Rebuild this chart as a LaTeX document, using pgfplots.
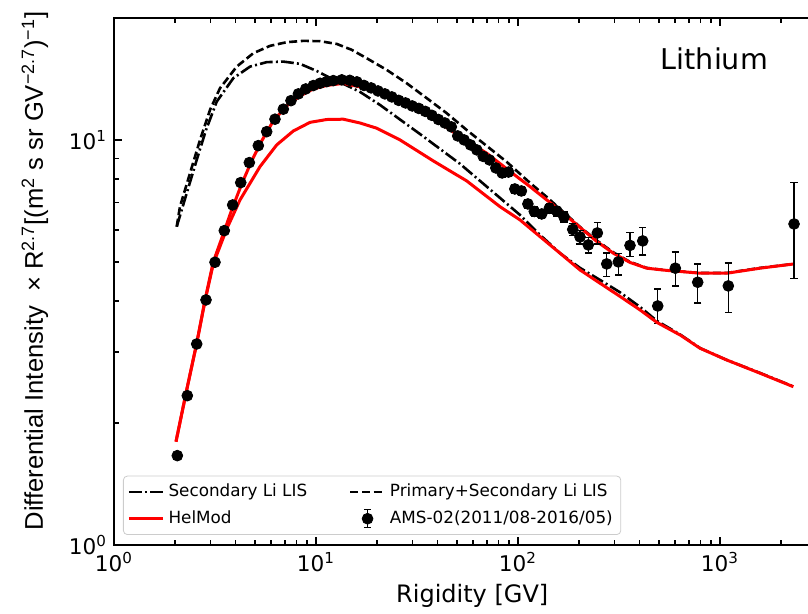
\documentclass[border=0pt]{standalone}
\usepackage{fontspec}
\setmainfont{DejaVu Sans}
\newfontfamily\arialfont{Liberation Sans}
\usepackage{pgfplots}
\usepackage{pgfplotstable}
\pgfplotsset{compat=1.18}

\pgfplotstableread{
R V ep em
2.058 1.662 0.03 0.03
2.306 2.337 0.04 0.04
2.567 3.135 0.05 0.05
2.854 4.027 0.06 0.06
3.162 4.989 0.07 0.07
3.516 5.971 0.08 0.08
3.869 6.910 0.09 0.09
4.240 7.846 0.10 0.10
4.676 8.790 0.11 0.11
5.180 9.681 0.12 0.12
5.700 10.48 0.13 0.13
6.266 11.25 0.14 0.14
6.890 11.91 0.15 0.15
7.518 12.50 0.15 0.15
8.176 12.99 0.16 0.16
8.892 13.36 0.16 0.16
9.697 13.62 0.17 0.17
10.47 13.80 0.17 0.17
11.30 13.93 0.17 0.17
12.18 14.01 0.17 0.17
13.41 14.07 0.18 0.18
14.69 14.03 0.18 0.18
15.94 13.91 0.18 0.18
17.28 13.63 0.18 0.18
18.74 13.44 0.18 0.18
20.27 13.21 0.18 0.18
21.93 12.99 0.18 0.18
23.73 12.77 0.18 0.18
25.67 12.52 0.18 0.18
27.74 12.34 0.18 0.18
29.94 12.13 0.18 0.18
32.28 11.96 0.18 0.18
34.77 11.76 0.18 0.18
37.48 11.50 0.18 0.18
40.36 11.23 0.18 0.18
43.46 11.01 0.18 0.18
46.76 10.77 0.18 0.18
50.30 10.23 0.18 0.18
54.10 10.00 0.18 0.18
58.20 9.720 0.18 0.18
62.52 9.448 0.18 0.18
67.25 9.105 0.18 0.18
72.25 8.924 0.18 0.18
77.66 8.528 0.18 0.18
83.42 8.288 0.18 0.18
89.75 8.330 0.18 0.18
96.43 7.568 0.18 0.18
103.9 7.483 0.18 0.18
111.9 6.950 0.18 0.18
120.4 6.660 0.18 0.18
131.0 6.566 0.17 0.17
142.9 6.782 0.18 0.18
155.5 6.678 0.18 0.18
168.9 6.453 0.18 0.18
186.6 6.012 0.20 0.20
202.7 5.761 0.22 0.22
222.8 5.505 0.24 0.24
247.0 5.893 0.36 0.36
274.9 4.942 0.31 0.34
313.7 4.999 0.25 0.36
358.4 5.490 0.41 0.34
414.3 5.632 0.45 0.43
491.6 3.892 0.39 0.37
600.7 4.823 0.46 0.46
775.5 4.453 0.49 0.50
1099 4.361 0.60 0.61
2325 6.202 1.64 1.65
}\amsdata

\pgfplotstableread{
R V
2.027 1.799
2.290 2.414
2.567 3.148
2.822 4.027
3.101 4.999
3.476 5.861
3.825 6.717
4.288 7.788
4.804 8.875
5.385 9.943
6.145 11.14
7.161 12.13
8.333 12.84
9.697 13.36
11.30 13.63
13.65 13.79
17.82 13.42
21.50 13.02
26.05 12.43
38.08 11.31
51.63 10.19
69.98 9.272
94.78 8.241
114.7 7.668
138.7 7.110
167.6 6.592
202.7 6.081
245.3 5.616
296.4 5.252
358.4 4.984
433.6 4.823
544.6 4.763
634.0 4.735
796.2 4.687
1080 4.687
1578 4.823
2325 4.942
}\hmtot

\pgfplotstableread{
R V
2.027 1.799
2.290 2.414
2.567 3.145
2.822 4.004
3.101 4.943
3.614 6.029
4.205 7.110
5.282 8.592
6.389 9.720
7.720 10.52
9.340 11.05
11.30 11.23
13.65 11.25
16.51 11.01
19.97 10.69
26.05 10.00
38.08 8.875
55.72 7.922
81.44 6.843
102.3 6.346
128.5 5.772
161.4 5.252
202.7 4.775
254.7 4.428
319.9 4.108
401.8 3.805
487.6 3.543
634.0 3.300
796.2 3.060
1080 2.862
1578 2.655
2307 2.459
}\hmsec

\pgfplotstableread{
R V
2.044 6.107
2.121 6.843
2.378 8.274
2.666 10.00
2.987 11.86
3.348 13.42
4.050 15.17
4.893 16.37
5.920 17.07
7.161 17.43
8.652 17.56
10.45 17.53
12.66 17.26
15.02 16.69
17.82 15.91
22.39 14.89
28.12 13.80
35.32 12.68
44.36 11.64
55.72 10.58
69.98 9.664
87.93 8.824
114.7 7.832
138.7 7.232
167.6 6.643
202.7 6.098
245.3 5.647
296.4 5.277
358.4 4.999
433.6 4.831
544.6 4.763
796.2 4.694
1080 4.694
1578 4.831
2325 4.942
}\listot

\pgfplotstableread{
R V
2.044 6.107
2.290 7.386
2.567 8.924
2.854 10.58
3.224 12.43
3.895 14.20
4.713 15.17
5.700 15.56
6.890 15.61
8.333 15.41
10.08 14.80
11.73 14.23
14.19 13.63
16.51 13.14
20.74 12.20
26.05 11.23
32.72 10.34
41.10 9.501
51.63 8.728
64.87 7.922
81.44 7.192
102.3 6.528
128.5 5.829
161.4 5.254
202.7 4.831
254.7 4.511
319.9 4.205
401.8 3.870
487.6 3.573
634.0 3.310
796.2 3.063
1080 2.862
1578 2.659
2307 2.462
}\lissec

\begin{document}
\begin{tikzpicture}
\begin{axis}[
  name=ax,
  xmode=log, ymode=log,
  scale only axis, width=351.2pt, height=263.5pt,
  xmin=1, xmax=3000, ymin=1, ymax=20,
  xtick={1,10,100,1000},
  xticklabels={10\textsuperscript{0},10\textsuperscript{1},10\textsuperscript{2},10\textsuperscript{3}},
  ytick={1,10},
  yticklabels={10\textsuperscript{0},10\textsuperscript{1}},
  minor xtick={2,3,4,5,6,7,8,9,20,30,40,50,60,70,80,90,200,300,400,500,600,700,800,900,2000,3000},
  minor ytick={2,3,4,5,6,7,8,9,20},
  tick align=inside,
  major tick length=4pt, minor tick length=2.5pt,
  every tick/.style={black, line width=0.8pt},
  axis line style={line width=1pt},
  ticklabel style={font=\fontsize{10.8}{12}\selectfont},
  xlabel={Rigidity [GV]},
  xlabel style={font=\fontsize{12}{14}\selectfont, at={(axis description cs:0.51,-0.097)}, anchor=center},
  ylabel={Differential Intensity \ × R\textsuperscript{2.7}[(m\textsuperscript{2} s sr GV\textsuperscript{−2.7})\textsuperscript{−1}]},
  ylabel style={font=\arialfont\fontsize{12.8}{14}\selectfont, at={(axis description cs:-0.1125,0.52)}, anchor=center},
  legend columns=2,
  legend cell align=left,
  legend style={at={(axis description cs:0.0128,0.019)}, anchor=south west,
    draw=black!20, rounded corners=2pt, fill=white,
    font=\fontsize{8.4}{10}\selectfont, inner sep=2pt, row sep=1.5pt,
    /tikz/every even column/.append style={column sep=19pt}},
]
\addplot[black, line width=1.3pt, dash pattern=on 6.4pt off 1.6pt on 1pt off 1.6pt] table[x=R,y=V] {\lissec};
\addlegendentry{Secondary Li LIS}
\addplot[black, line width=1.3pt, dash pattern=on 4pt off 1.8pt] table[x=R,y=V] {\listot};
\addlegendentry{Primary+Secondary Li LIS}
\addplot[red, line width=1.5pt] table[x=R,y=V] {\hmtot};
\addlegendentry{HelMod}
\addplot[only marks, mark=*, mark size=2.7pt, black,
  legend image code/.code={
    \draw[line width=0.75pt] (0.3cm,-4.5pt) -- (0.3cm,4.5pt);
    \draw[line width=0.75pt] (0.3cm-1.8pt,4.5pt) -- (0.3cm+1.8pt,4.5pt);
    \draw[line width=0.75pt] (0.3cm-1.8pt,-4.5pt) -- (0.3cm+1.8pt,-4.5pt);
    \fill (0.3cm,0pt) circle (2.7pt);
  },
  error bars/.cd, y dir=both, y explicit,
  error bar style={line width=0.75pt, black},
  error mark options={rotate=90, line width=0.75pt, mark size=1.8pt, black}]
  table[x=R,y=V,y error plus=ep,y error minus=em] {\amsdata};
\addlegendentry{AMS-02(2011/08-2016/05)}
\addplot[red, line width=1.5pt, forget plot] table[x=R,y=V] {\hmsec};
\node[font=\fontsize{14.3}{16}\selectfont] at (axis description cs:0.8547,0.922) {Lithium};
\end{axis}
\pgfresetboundingbox
\path[use as bounding box] ([xshift=-57pt,yshift=-34.5pt]ax.south west) rectangle ([xshift=347pt,yshift=272.5pt]ax.south west);
\end{tikzpicture}
\end{document}
